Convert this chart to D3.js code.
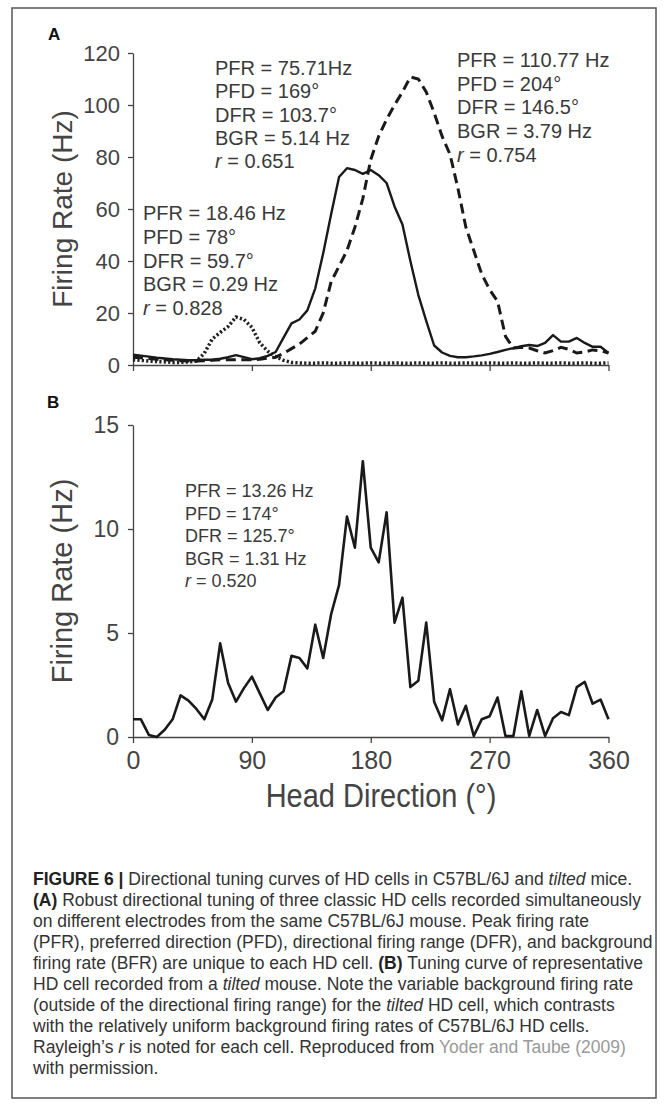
<!DOCTYPE html>
<meta charset="utf-8">
<script src="https://d3js.org/d3.v7.min.js"></script>
<style>
  body { margin: 0; background: #fff; }
  svg text { font-family: "Liberation Sans", Arial, sans-serif; }
</style>
<div id="chart"></div>
<script>
// head direction bins (deg)
var headDir = [0,6,12,18,24,30,36,42,48,54,60,66,72,78,84,90,96,102,108,114,120,126,132,138,144,150,
  156,162,168,174,180,186,192,198,204,210,216,222,228,234,240,246,252,258,264,270,276,282,288,294,300,
  306,312,318,324,330,336,342,348,354,360];

// panel A, three C57BL/6J cells (Hz)
var cellSolid = [4.0,3.6,3.2,2.8,2.5,2.2,2.0,1.8,1.8,2.0,2.0,2.4,3.0,3.8,3.0,2.2,2.6,3.5,5.0,10.5,
  16.0,17.5,21.0,29.5,43.0,58.0,72.3,75.7,75.0,73.5,75.0,73.0,70.0,61.0,54.0,40.0,27.0,17.0,7.5,4.8,
  3.5,3.0,3.0,3.3,3.7,4.3,5.0,5.8,6.5,7.2,7.7,7.3,8.5,11.5,9.0,9.0,10.4,8.5,7.0,7.0,4.6];
var cellDashed = [3.0,2.8,2.5,2.2,2.0,1.8,1.6,1.5,1.5,1.6,1.8,2.0,2.0,2.0,2.0,2.0,2.2,2.6,3.0,4.5,
  6.3,8.0,10.5,13.0,20.0,32.0,38.0,44.0,53.0,64.0,79.0,88.0,94.5,100.0,105.0,110.8,110.0,105.0,97.0,88.0,
  81.0,68.0,53.0,44.0,35.0,29.0,24.5,11.0,6.5,6.8,6.5,5.5,4.6,5.5,6.8,6.0,4.6,5.0,5.8,5.5,4.6];
var cellDotted = [2.0,1.8,1.5,1.3,1.2,1.0,1.0,1.2,1.5,4.5,10.0,12.5,14.8,18.46,17.5,14.5,8.5,5.3,3.2,1.8,
  1.0,0.8,0.7,0.7,0.8,0.7,0.7,0.8,0.7,0.7,0.8,0.7,0.7,0.8,0.7,0.7,0.8,0.7,0.7,0.8,
  0.7,0.7,0.8,0.7,0.7,0.8,0.7,0.7,0.8,0.7,0.7,0.8,0.7,0.7,0.8,0.7,0.7,0.8,0.7,0.7,0.8];

// panel B, tilted mouse cell (Hz)
var cellTilted = [0.85,0.85,0.1,0.0,0.35,0.85,2.0,1.75,1.35,0.85,1.8,4.5,2.6,1.7,2.35,2.9,2.1,1.3,1.9,2.2,
  3.9,3.8,3.3,5.4,3.8,5.9,7.3,10.6,9.1,13.26,9.1,8.4,10.8,5.5,6.7,2.4,2.7,5.5,1.7,0.8,
  2.3,0.6,1.5,0.05,0.85,1.0,1.9,0.05,0.05,2.2,0.05,1.3,0.05,0.9,1.2,1.05,2.4,2.65,1.6,1.8,0.85];

var xTicks = [0, 90, 180, 270, 360];
var yTicksA = [0, 20, 40, 60, 80, 100, 120];
var yTicksB = [0, 5, 10, 15];

var statsSolid = ["PFR = 75.71Hz", "PFD = 169°", "DFR = 103.7°", "BGR = 5.14 Hz", "= 0.651"];
var statsDashed = ["PFR = 110.77 Hz", "PFD = 204°", "DFR = 146.5°", "BGR = 3.79 Hz", "= 0.754"];
var statsDotted = ["PFR = 18.46 Hz", "PFD = 78°", "DFR = 59.7°", "BGR = 0.29 Hz", "= 0.828"];
var statsTilted = ["PFR = 13.26 Hz", "PFD = 174°", "DFR = 125.7°", "BGR = 1.31 Hz", "= 0.520"];

// caption: [text, style]  b = bold, i = italic, g = grey link
var caption = [
  [["FIGURE 6 | ", "b"], ["Directional tuning curves of HD cells in C57BL/6J and ", ""], ["tilted", "i"], [" mice.", ""]],
  [["(A)", "b"], [" Robust directional tuning of three classic HD cells recorded simultaneously", ""]],
  [["on different electrodes from the same C57BL/6J mouse. Peak firing rate", ""]],
  [["(PFR), preferred direction (PFD), directional firing range (DFR), and background", ""]],
  [["firing rate (BFR) are unique to each HD cell. ", ""], ["(B)", "b"], [" Tuning curve of representative", ""]],
  [["HD cell recorded from a ", ""], ["tilted", "i"], [" mouse. Note the variable background firing rate", ""]],
  [["(outside of the directional firing range) for the ", ""], ["tilted", "i"], [" HD cell, which contrasts", ""]],
  [["with the relatively uniform background firing rates of C57BL/6J HD cells.", ""]],
  [["Rayleigh\u2019s ", ""], ["r", "i"], [" is noted for each cell. Reproduced from ", ""], ["Yoder and Taube (2009)", "g"]],
  [["with permission.", ""]]
];

var ink = "#3a3a3a";
var svg = d3.select("#chart").append("svg")
    .attr("width", 668)
    .attr("height", 1107);

// frame
svg.append("rect")
  .attr("x", 12).attr("y", 8)
  .attr("width", 644).attr("height", 1090)
  .attr("fill", "none").attr("stroke", "#555").attr("stroke-width", 1.5);

var x = d3.scaleLinear().domain([0, 360]).range([133, 608.5]);
var yA = d3.scaleLinear().domain([0, 120]).range([365, 53]);
var yB = d3.scaleLinear().domain([0, 15]).range([737, 425]);

function styleAxis(g, size) {
  g.attr("font-family", null).attr("font-size", null);
  g.select(".domain").attr("stroke", "#444").attr("stroke-width", 1.3);
  g.selectAll(".tick line").attr("stroke", "#444").attr("stroke-width", 1.3);
  g.selectAll(".tick text").attr("fill", "#444").style("font-size", size + "px");
}

// ---- panel A ----
svg.append("text").attr("x", 48).attr("y", 40)
  .style("font-size", "17px").style("font-weight", "bold").attr("fill", "#111").text("A");

svg.append("g")
  .attr("transform", "translate(0," + yA(0) + ")")
  .call(d3.axisBottom(x).tickValues(xTicks).tickSize(6).tickSizeOuter(0).tickFormat(""))
  .call(styleAxis, 22);
svg.append("g")
  .attr("transform", "translate(" + x(0) + ",0)")
  .call(d3.axisLeft(yA).tickValues(yTicksA).tickSize(5).tickSizeOuter(0).tickPadding(8))
  .call(styleAxis, 22);

svg.append("text")
  .attr("transform", "translate(72," + ((yA(0) + yA(120)) / 2) + ") rotate(-90)")
  .attr("text-anchor", "middle").attr("fill", "#444")
  .style("font-size", "28px").text("Firing Rate (Hz)");

function lineFor(y) {
  return d3.line().x(function(d, i) { return x(headDir[i]); }).y(function(d) { return y(d); });
}

svg.append("path").datum(cellDotted)
  .attr("d", lineFor(yA)).attr("fill", "none").attr("stroke", "#222")
  .attr("stroke-width", 3.5).attr("stroke-dasharray", "2.2,2.2");
svg.append("path").datum(cellDashed)
  .attr("d", lineFor(yA)).attr("fill", "none").attr("stroke", "#1a1a1a")
  .attr("stroke-width", 3).attr("stroke-dasharray", "10,5.5");
svg.append("path").datum(cellSolid)
  .attr("d", lineFor(yA)).attr("fill", "none").attr("stroke", "#1a1a1a")
  .attr("stroke-width", 2.4).attr("stroke-linejoin", "round");

function drawStats(lines, x0, y0, dy, size) {
  var g = svg.append("g").style("font-size", size + "px").attr("fill", ink);
  lines.forEach(function(s, i) {
    var t = g.append("text").attr("x", x0).attr("y", y0 + i * dy);
    if (i === lines.length - 1) {
      t.append("tspan").style("font-style", "italic").text("r");
      t.append("tspan").text(" " + s);
    } else {
      t.text(s);
    }
  });
}
drawStats(statsSolid, 215, 75, 23.3, 20);
drawStats(statsDashed, 457, 67, 23.7, 20);
drawStats(statsDotted, 143, 220, 23.8, 20);

// ---- panel B ----
svg.append("text").attr("x", 47).attr("y", 408)
  .style("font-size", "17px").style("font-weight", "bold").attr("fill", "#111").text("B");

svg.append("g")
  .attr("transform", "translate(0," + yB(0) + ")")
  .call(d3.axisBottom(x).tickValues(xTicks).tickSize(6).tickSizeOuter(0).tickPadding(8))
  .call(styleAxis, 25);
svg.append("g")
  .attr("transform", "translate(" + x(0) + ",0)")
  .call(d3.axisLeft(yB).tickValues(yTicksB).tickSize(5).tickSizeOuter(0).tickPadding(9))
  .call(styleAxis, 23);

svg.append("text")
  .attr("transform", "translate(72," + ((yB(0) + yB(15)) / 2) + ") rotate(-90)")
  .attr("text-anchor", "middle").attr("fill", "#444")
  .style("font-size", "29px").text("Firing Rate (Hz)");

svg.append("text")
  .attr("transform", "translate(381,807) scale(1,1.12)")
  .attr("text-anchor", "middle").attr("fill", "#444")
  .style("font-size", "29px").text("Head Direction (°)");

svg.append("path").datum(cellTilted)
  .attr("d", lineFor(yB)).attr("fill", "none").attr("stroke", "#1a1a1a")
  .attr("stroke-width", 2.6).attr("stroke-linejoin", "round");

drawStats(statsTilted, 185, 497, 22.5, 18);

// ---- caption ----
var cap = svg.append("g").style("font-size", "17.5px").attr("fill", "#333");
caption.forEach(function(line, i) {
  var t = cap.append("text").attr("x", 33).attr("y", 885 + i * 21);
  line.forEach(function(seg) {
    var sp = t.append("tspan").text(seg[0]);
    if (seg[1] === "b") sp.style("font-weight", "bold").attr("fill", "#222");
    if (seg[1] === "i") sp.style("font-style", "italic");
    if (seg[1] === "g") sp.attr("fill", "#999");
  });
});
</script>
